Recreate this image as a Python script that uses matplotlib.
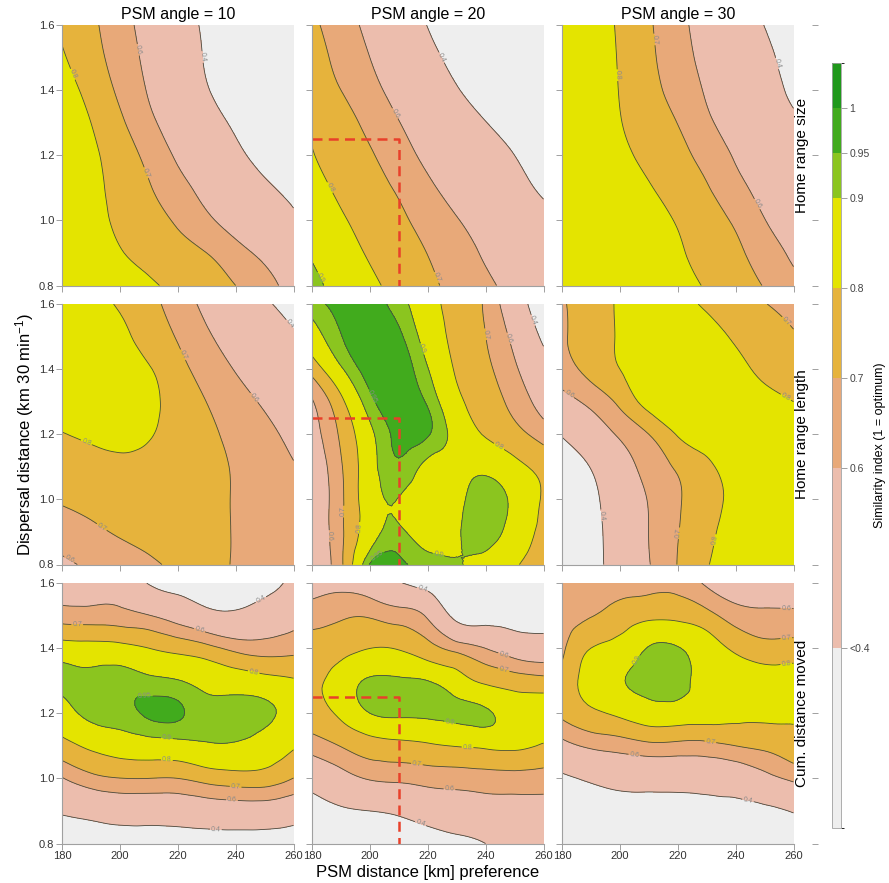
import numpy as np
import matplotlib
matplotlib.use("Agg")
import matplotlib.pyplot as plt
import matplotlib.tri as mtri
from matplotlib.colors import ListedColormap, BoundaryNorm
from matplotlib.cm import ScalarMappable

plt.rcParams['font.family'] = ['Liberation Sans', 'DejaVu Sans']
plt.rcParams['mathtext.default'] = 'regular'

# grid of the sensitivity runs
psm_distance = [180, 190, 200, 210, 220, 230, 240, 250, 260]
dispersal = [1.6, 1.5, 1.4, 1.3, 1.2, 1.1, 1.0, 0.9, 0.8]   # rows top -> bottom
psm_angles = [10, 20, 30]
metrics = ["Home range size", "Home range length", "Cum. distance moved"]

# similarity index per metric / PSM angle (rows follow `dispersal`, cols follow `psm_distance`)
home_size_10 = [
    [0.787, 0.72, 0.642, 0.556, 0.467, 0.378, 0.32, 0.28, 0.25],
    [0.811, 0.737, 0.658, 0.572, 0.48, 0.388, 0.32, 0.28, 0.25],
    [0.85, 0.767, 0.682, 0.591, 0.50, 0.409, 0.33, 0.28, 0.25],
    [0.88, 0.80, 0.717, 0.625, 0.539, 0.456, 0.38, 0.32, 0.28],
    [0.88, 0.821, 0.75, 0.673, 0.584, 0.506, 0.428, 0.36, 0.31],
    [0.88, 0.829, 0.767, 0.707, 0.636, 0.564, 0.493, 0.421, 0.37],
    [0.88, 0.83, 0.784, 0.737, 0.687, 0.62, 0.553, 0.487, 0.42],
    [0.88, 0.85, 0.806, 0.77, 0.735, 0.70, 0.638, 0.573, 0.507],
    [0.88, 0.87, 0.85, 0.814, 0.776, 0.738, 0.70, 0.633, 0.567],
]
home_size_20 = [
    [0.72, 0.648, 0.571, 0.484, 0.397, 0.34, 0.30, 0.27, 0.25],
    [0.743, 0.671, 0.60, 0.517, 0.433, 0.37, 0.32, 0.28, 0.26],
    [0.768, 0.70, 0.632, 0.56, 0.484, 0.408, 0.35, 0.31, 0.28],
    [0.79, 0.741, 0.672, 0.603, 0.537, 0.47, 0.403, 0.35, 0.31],
    [0.805, 0.757, 0.71, 0.643, 0.576, 0.518, 0.459, 0.40, 0.35],
    [0.83, 0.782, 0.736, 0.687, 0.62, 0.558, 0.499, 0.44, 0.38],
    [0.85, 0.81, 0.764, 0.718, 0.665, 0.606, 0.551, 0.497, 0.443],
    [0.89, 0.84, 0.79, 0.744, 0.698, 0.644, 0.587, 0.53, 0.47],
    [0.92, 0.87, 0.82, 0.77, 0.721, 0.671, 0.622, 0.56, 0.50],
]
home_size_30 = [
    [0.87, 0.84, 0.788, 0.712, 0.631, 0.552, 0.475, 0.398, 0.35],
    [0.87, 0.84, 0.793, 0.72, 0.643, 0.568, 0.496, 0.423, 0.37],
    [0.87, 0.84, 0.797, 0.732, 0.664, 0.589, 0.518, 0.447, 0.38],
    [0.87, 0.845, 0.804, 0.751, 0.698, 0.619, 0.552, 0.488, 0.425],
    [0.87, 0.85, 0.82, 0.775, 0.727, 0.665, 0.59, 0.536, 0.482],
    [0.87, 0.86, 0.84, 0.807, 0.757, 0.707, 0.631, 0.567, 0.51],
    [0.87, 0.86, 0.85, 0.83, 0.793, 0.742, 0.685, 0.603, 0.54],
    [0.87, 0.86, 0.85, 0.835, 0.81, 0.767, 0.719, 0.653, 0.58],
    [0.87, 0.86, 0.855, 0.84, 0.825, 0.792, 0.744, 0.695, 0.63],
]
home_len_10 = [
    [0.85, 0.83, 0.789, 0.729, 0.656, 0.572, 0.495, 0.418, 0.36],
    [0.86, 0.845, 0.82, 0.762, 0.692, 0.615, 0.547, 0.48, 0.413],
    [0.86, 0.85, 0.83, 0.806, 0.733, 0.66, 0.594, 0.53, 0.47],
    [0.86, 0.85, 0.84, 0.82, 0.761, 0.699, 0.643, 0.585, 0.525],
    [0.795, 0.815, 0.82, 0.806, 0.764, 0.72, 0.673, 0.625, 0.575],
    [0.75, 0.77, 0.785, 0.78, 0.76, 0.73, 0.69, 0.645, 0.605],
    [0.71, 0.73, 0.75, 0.76, 0.755, 0.73, 0.693, 0.66, 0.63],
    [0.65, 0.68, 0.71, 0.73, 0.74, 0.725, 0.695, 0.67, 0.645],
    [0.58, 0.617, 0.65, 0.685, 0.715, 0.72, 0.695, 0.68, 0.66],
]
home_len_20 = [
    [0.93, 0.965, 0.97, 0.925, 0.84, 0.764, 0.685, 0.493, 0.30],
    [0.86, 0.948, 0.975, 0.96, 0.863, 0.775, 0.701, 0.563, 0.37],
    [0.74, 0.89, 0.97, 0.975, 0.903, 0.789, 0.72, 0.617, 0.474],
    [0.59, 0.776, 0.934, 0.975, 0.942, 0.826, 0.747, 0.667, 0.55],
    [0.55, 0.717, 0.88, 0.965, 0.955, 0.869, 0.792, 0.734, 0.657],
    [0.50, 0.69, 0.864, 0.94, 0.88, 0.875, 0.88, 0.83, 0.77],
    [0.50, 0.68, 0.86, 0.898, 0.86, 0.88, 0.93, 0.88, 0.79],
    [0.50, 0.68, 0.86, 0.91, 0.87, 0.89, 0.93, 0.86, 0.78],
    [0.50, 0.68, 0.955, 0.97, 0.93, 0.905, 0.87, 0.81, 0.77],
]
home_len_30 = [
    [0.69, 0.754, 0.81, 0.84, 0.83, 0.786, 0.745, 0.704, 0.66],
    [0.69, 0.748, 0.81, 0.845, 0.85, 0.83, 0.79, 0.755, 0.71],
    [0.66, 0.731, 0.80, 0.84, 0.86, 0.85, 0.82, 0.783, 0.75],
    [0.55, 0.63, 0.724, 0.835, 0.86, 0.86, 0.845, 0.825, 0.80],
    [0.41, 0.51, 0.615, 0.70, 0.807, 0.84, 0.85, 0.85, 0.84],
    [0.33, 0.405, 0.535, 0.637, 0.714, 0.783, 0.83, 0.845, 0.85],
    [0.30, 0.37, 0.485, 0.607, 0.69, 0.763, 0.82, 0.84, 0.85],
    [0.30, 0.36, 0.473, 0.601, 0.696, 0.777, 0.83, 0.845, 0.85],
    [0.30, 0.36, 0.465, 0.594, 0.703, 0.794, 0.83, 0.845, 0.85],
]
cum_dist_10 = [
    [0.55, 0.55, 0.55, 0.39, 0.34, 0.30, 0.30, 0.33, 0.45],
    [0.65, 0.645, 0.639, 0.604, 0.538, 0.456, 0.431, 0.483, 0.55],
    [0.845, 0.837, 0.83, 0.80, 0.768, 0.73, 0.671, 0.651, 0.668],
    [0.92, 0.92, 0.93, 0.916, 0.903, 0.874, 0.856, 0.834, 0.81],
    [0.859, 0.92, 0.935, 0.958, 0.958, 0.925, 0.925, 0.915, 0.87],
    [0.769, 0.818, 0.848, 0.864, 0.872, 0.89, 0.891, 0.864, 0.81],
    [0.593, 0.669, 0.698, 0.70, 0.70, 0.736, 0.756, 0.754, 0.698],
    [0.416, 0.449, 0.478, 0.48, 0.486, 0.508, 0.521, 0.52, 0.485],
    [0.33, 0.33, 0.33, 0.33, 0.33, 0.33, 0.33, 0.33, 0.33],
]
cum_dist_20 = [
    [0.55, 0.56, 0.50, 0.41, 0.33, 0.30, 0.30, 0.30, 0.30],
    [0.652, 0.685, 0.69, 0.653, 0.58, 0.35, 0.33, 0.33, 0.33],
    [0.75, 0.77, 0.799, 0.793, 0.737, 0.663, 0.598, 0.52, 0.49],
    [0.78, 0.84, 0.912, 0.912, 0.90, 0.844, 0.781, 0.75, 0.733],
    [0.76, 0.82, 0.90, 0.915, 0.918, 0.918, 0.912, 0.86, 0.85],
    [0.647, 0.704, 0.755, 0.772, 0.787, 0.804, 0.817, 0.82, 0.79],
    [0.472, 0.546, 0.61, 0.624, 0.642, 0.65, 0.661, 0.663, 0.658],
    [0.33, 0.38, 0.40, 0.427, 0.475, 0.506, 0.528, 0.55, 0.55],
    [0.28, 0.30, 0.31, 0.31, 0.33, 0.36, 0.40, 0.47, 0.47],
]
cum_dist_30 = [
    [0.64, 0.65, 0.66, 0.67, 0.67, 0.58, 0.50, 0.50, 0.50],
    [0.66, 0.695, 0.743, 0.777, 0.775, 0.733, 0.653, 0.625, 0.624],
    [0.68, 0.80, 0.84, 0.905, 0.905, 0.85, 0.78, 0.736, 0.74],
    [0.73, 0.845, 0.895, 0.925, 0.925, 0.87, 0.86, 0.85, 0.85],
    [0.72, 0.78, 0.82, 0.86, 0.86, 0.845, 0.83, 0.83, 0.825],
    [0.555, 0.62, 0.645, 0.674, 0.669, 0.67, 0.70, 0.72, 0.755],
    [0.38, 0.42, 0.456, 0.465, 0.466, 0.479, 0.492, 0.558, 0.623],
    [0.33, 0.34, 0.34, 0.34, 0.34, 0.34, 0.36, 0.37, 0.41],
    [0.30, 0.30, 0.30, 0.30, 0.30, 0.30, 0.31, 0.32, 0.33],
]

panels = [
    [home_size_10, home_size_20, home_size_30],
    [home_len_10, home_len_20, home_len_30],
    [cum_dist_10, cum_dist_20, cum_dist_30],
]

# chosen parameter combination, marked on the PSM angle = 20 column
best_distance = 210
best_dispersal = 1.25

band_bounds = [0.2, 0.4, 0.6, 0.7, 0.8, 0.9, 0.95, 1.0, 1.05]
band_colors = ['#eeeeee', '#ecbdad', '#e8a979', '#e6b33c', '#e4e400',
               '#8bc51f', '#41ab1d', '#1f981b']
line_levels = [0.4, 0.6, 0.7, 0.8, 0.9, 0.95]
cbar_ticks = [0.4, 0.6, 0.7, 0.8, 0.9, 0.95, 1.0]
cbar_labels = ['<0.4', '0.6', '0.7', '0.8', '0.9', '0.95', '1']


def grid_triangles(nx, ny):
    tris = []
    for j in range(ny - 1):
        for i in range(nx - 1):
            a = j * nx + i
            tris.append([a, a + 1, a + nx + 1])
            tris.append([a, a + nx + 1, a + nx])
    return np.array(tris)


nx, ny = len(psm_distance), len(dispersal)
ix, iy = np.meshgrid(np.arange(nx, dtype=float), np.arange(ny, dtype=float))
tri_idx = mtri.Triangulation(ix.ravel(), iy.ravel(), grid_triangles(nx, ny))
refiner = mtri.UniformTriRefiner(tri_idx)

W, H = 889, 883
fig = plt.figure(figsize=(W / 100, H / 100), dpi=100)
col_left = [62, 312, 562]
row_top = [25, 304, 583]
pw, ph = 231.5, 260.5

fill_levels = [0.0] + band_bounds[1:-1] + [1.5]

for r in range(3):
    for c in range(3):
        ax = fig.add_axes([col_left[c] / W, 1 - (row_top[r] + ph) / H, pw / W, ph / H])
        z = np.asarray(panels[r][c], dtype=float).ravel()
        interp = mtri.CubicTriInterpolator(tri_idx, z, kind='min_E')
        tri_ref, z_ref = refiner.refine_field(z, triinterpolator=interp, subdiv=3)
        xr = np.interp(tri_ref.x, np.arange(nx), psm_distance)
        yr = np.interp(tri_ref.y, np.arange(ny), dispersal)
        tri_real = mtri.Triangulation(xr, yr, tri_ref.triangles)

        ax.tricontourf(tri_real, z_ref, levels=fill_levels, colors=band_colors)
        cs = ax.tricontour(tri_real, z_ref, levels=line_levels, colors='#4a4a40', linewidths=0.6)
        ax.clabel(cs, fontsize=5, colors='#8a8a8a', fmt='%g', inline=True, inline_spacing=1)

        if c == 1:
            ax.plot([psm_distance[0], best_distance, best_distance],
                    [best_dispersal, best_dispersal, dispersal[-1]],
                    color='#e8402a', lw=1.8, ls=(0, (4, 2.5)), solid_capstyle='butt')

        ax.set_xlim(180, 260)
        ax.set_ylim(0.8, 1.6)
        ax.set_xticks([180, 200, 220, 240, 260])
        ax.set_yticks([0.8, 1.0, 1.2, 1.4, 1.6])
        ax.set_yticklabels(['0.8', '1.0', '1.2', '1.4', '1.6'])
        ax.tick_params(direction='out', length=4, width=0.6, color='#909090',
                       labelsize=8, labelcolor='#333333', pad=1.5)
        if c != 0:
            ax.tick_params(axis='y', labelleft=False)
        if r != 2:
            ax.tick_params(axis='x', labelbottom=False)
        if c == 2:
            ax.tick_params(axis='y', right=True, labelright=False)
            ax.spines['right'].set_position(('outward', 13))
        for side in ['top', 'right']:
            ax.spines[side].set_visible(False)
        for side in ['left', 'bottom']:
            ax.spines[side].set_color('#a0a0a0')
            ax.spines[side].set_linewidth(0.8)

for c in range(3):
    fig.text((col_left[c] + pw / 2) / W, 1 - 14 / H, "PSM angle = %d" % psm_angles[c],
             fontsize=11.5, ha='center', va='center')
for r in range(3):
    fig.text(802 / W, 1 - (row_top[r] + ph / 2) / H, metrics[r], rotation=90,
             fontsize=11, ha='center', va='center')

fig.text(25 / W, 1 - (row_top[1] + ph / 2) / H, 'Dispersal distance (km 30 min$^{-1}$)',
         rotation=90, fontsize=12, ha='center', va='center')
fig.text((col_left[1] + pw / 2) / W, 1 - 872 / H, 'PSM distance [km] preference',
         fontsize=12, ha='center', va='center')

# colour key
cax = fig.add_axes([832 / W, 1 - 828 / H, 9 / W, (828 - 63) / H])
cmap = ListedColormap(band_colors)
norm = BoundaryNorm(band_bounds, cmap.N)
cb = fig.colorbar(ScalarMappable(norm=norm, cmap=cmap), cax=cax, spacing='proportional',
                  ticks=cbar_ticks)
cb.ax.set_yticklabels(cbar_labels)
cb.ax.tick_params(length=4, width=0.6, color='#909090', labelsize=7.5, labelcolor='#444444', pad=2)
cb.outline.set_edgecolor('#a0a0a0')
cb.outline.set_linewidth(0.6)
fig.text(880 / W, 1 - 445 / H, 'Similarity index (1 = optimum)', rotation=90,
         fontsize=9, ha='center', va='center')

fig.savefig('out.png', dpi=100)
